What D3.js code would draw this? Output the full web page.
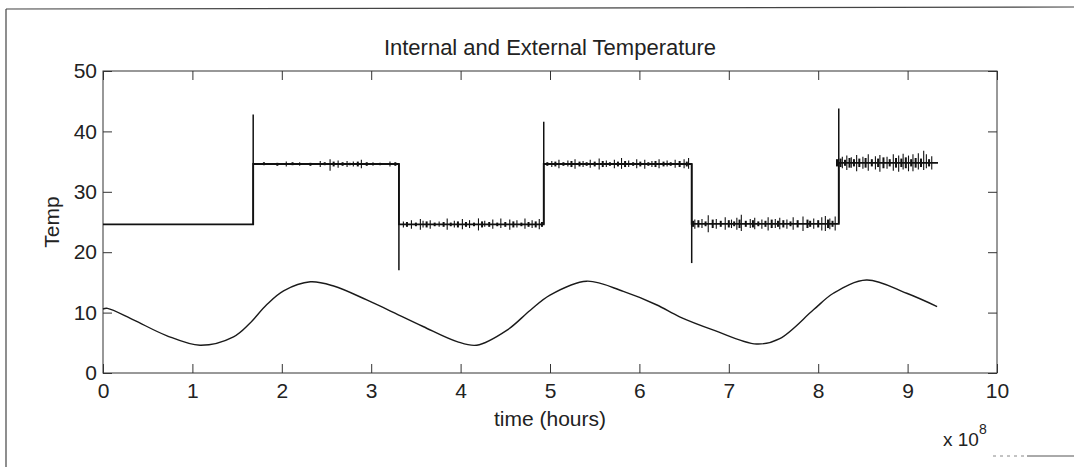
<!DOCTYPE html>
<html>
<head>
<meta charset="utf-8">
<script src="https://cdn.jsdelivr.net/npm/d3@7"></script>
<style>
  body { margin: 0; background: #fff; }
  svg { display: block; font-family: "Liberation Sans", Arial, sans-serif; }
</style>
</head>
<body>
<div id="chart"></div>
<script>
// external temperature (sine-like), x in units of 1e8
var extX = [0, 0.05, 0.34, 0.71, 1.085, 1.46, 1.64, 1.83, 2.02, 2.32, 2.58, 2.95, 3.21, 3.58, 3.96, 4.18, 4.52, 4.78, 5.0, 5.41, 5.82, 6.19, 6.45, 6.83, 7.31, 7.57, 7.95, 8.17, 8.54, 8.99, 9.33]
var extY = [10.6, 10.7, 8.8, 6.2, 4.6, 6.0, 8.2, 11.3, 13.6, 15.1, 14.4, 12.1, 10.3, 7.7, 5.2, 4.6, 7.1, 10.4, 12.9, 15.2, 13.5, 11.3, 9.3, 7.1, 4.8, 5.7, 10.5, 13.2, 15.4, 13.2, 11.0]

// internal temperature, step levels
var intX = [0, 1.68, 1.68, 3.31, 3.31, 4.93, 4.93, 6.585, 6.585, 8.23, 8.23, 9.34]
var intY = [24.6, 24.6, 34.6, 34.6, 24.6, 24.6, 34.6, 34.6, 24.7, 24.7, 34.8, 34.8]

// overshoot at each switch
var stepX  = [1.68, 3.31, 4.93, 6.585, 8.23]
var stepLo = [24.6, 17.0, 24.6, 18.2, 24.7]
var stepHi = [42.8, 34.6, 41.6, 34.6, 43.8]

// larger noise spikes on the internal signal
var spikeX  = [2.05, 2.20, 2.43, 2.54, 2.63, 2.73, 2.80, 2.89, 3.02, 3.21,
               3.36, 3.45, 3.55, 3.58, 3.66, 3.76, 3.85, 3.93, 4.02, 4.10, 4.20, 4.27, 4.36, 4.45, 4.55, 4.63, 4.72, 4.80, 4.88,
               5.02, 5.10, 5.20, 5.28, 5.37, 5.45, 5.55, 5.63, 5.72, 5.80, 5.88, 5.97, 6.06, 6.14, 6.22, 6.31, 6.40, 6.50, 6.55,
               6.62, 6.70, 6.77, 6.86, 6.96, 7.03, 7.09, 7.14, 7.24, 7.29, 7.37, 7.44, 7.52, 7.57, 7.65, 7.72, 7.83, 7.95, 8.04, 8.08, 8.13, 8.19,
               8.27, 8.32, 8.37, 8.43, 8.50, 8.56, 8.64, 8.69, 8.77, 8.84, 8.90, 8.95, 9.01, 9.06, 9.12, 9.18, 9.21, 9.27]
var spikeLo = [34.2, 34.3, 34.1, 33.5, 34.0, 34.1, 34.2, 33.9, 34.3, 34.2,
               24.1, 23.9, 23.7, 24.1, 23.9, 24.2, 23.7, 24.1, 23.8, 24.0, 23.6, 24.2, 23.9, 24.0, 23.7, 24.1, 23.9, 24.0, 23.8,
               34.1, 33.9, 34.2, 33.8, 34.1, 34.0, 33.7, 34.1, 33.9, 33.8, 34.1, 33.9, 33.8, 34.1, 33.9, 34.2, 34.0, 33.9, 33.8,
               23.9, 24.0, 23.3, 23.9, 23.7, 24.0, 23.7, 23.5, 24.0, 23.8, 23.9, 23.6, 24.0, 23.8, 23.9, 23.7, 23.5, 23.9, 23.6, 23.5, 23.8, 23.6,
               33.9, 33.6, 34.0, 33.4, 33.8, 33.5, 33.7, 33.3, 33.8, 33.5, 33.3, 33.7, 33.4, 33.4, 33.7, 33.6, 33.9, 33.7]
var spikeHi = [35.0, 34.9, 35.1, 35.4, 35.2, 35.1, 35.0, 35.3, 34.9, 35.0,
               25.1, 25.3, 25.5, 25.2, 25.3, 25.1, 25.6, 25.2, 25.5, 25.3, 25.6, 25.2, 25.4, 25.6, 25.4, 25.3, 25.6, 25.3, 25.5,
               35.1, 35.3, 35.2, 35.4, 35.1, 35.3, 35.5, 35.2, 35.3, 35.6, 35.2, 35.4, 35.3, 35.1, 35.4, 35.2, 35.3, 35.4, 35.6,
               25.4, 25.5, 26.1, 25.5, 25.8, 25.4, 25.7, 26.2, 25.5, 25.7, 25.4, 25.8, 25.5, 25.7, 25.4, 25.8, 25.9, 25.6, 25.8, 26.0, 25.6, 25.9,
               35.8, 36.0, 35.7, 36.1, 35.8, 36.2, 35.9, 36.1, 35.8, 36.2, 36.0, 36.3, 36.0, 36.2, 36.4, 36.8, 36.2, 35.9]

// small noise blips between the larger spikes
var blipX  = [1.80, 1.95, 2.12, 2.32, 2.48, 2.58, 2.68, 2.76, 2.85, 2.95, 3.10, 3.27,
              3.40, 3.50, 3.62, 3.71, 3.81, 3.89, 3.97, 4.06, 4.15, 4.24, 4.32, 4.41, 4.50, 4.59, 4.68, 4.76, 4.84, 4.91,
              4.97, 5.06, 5.15, 5.24, 5.33, 5.41, 5.50, 5.59, 5.67, 5.76, 5.84, 5.93, 6.01, 6.10, 6.18, 6.27, 6.35, 6.45, 6.53,
              6.60, 6.66, 6.74, 6.82, 6.91, 7.00, 7.06, 7.12, 7.19, 7.27, 7.33, 7.41, 7.48, 7.55, 7.61, 7.69, 7.77, 7.88, 7.91, 8.00, 8.11, 8.16, 8.21,
              8.25, 8.30, 8.35, 8.40, 8.46, 8.53, 8.60, 8.67, 8.73, 8.80, 8.87, 8.93, 8.98, 9.04, 9.09, 9.15, 9.24, 9.30]
var blipLo = [34.4, 34.3, 34.4, 34.3, 34.4, 34.2, 34.3, 34.4, 34.2, 34.3, 34.4, 34.3,
              24.2, 24.3, 24.1, 24.3, 24.2, 24.3, 24.1, 24.2, 24.3, 24.1, 24.2, 24.3, 24.2, 24.1, 24.3, 24.2, 24.1, 24.2,
              34.3, 34.2, 34.3, 34.1, 34.2, 34.3, 34.2, 34.1, 34.3, 34.2, 34.1, 34.3, 34.2, 34.3, 34.1, 34.2, 34.3, 34.1, 34.2,
              24.2, 24.1, 24.3, 24.0, 24.2, 24.1, 24.3, 24.0, 24.2, 24.1, 24.3, 24.2, 24.0, 24.2, 24.1, 24.3, 24.1, 24.0, 24.2, 24.1, 24.0, 24.2,
              34.2, 34.1, 34.3, 34.0, 34.2, 34.1, 34.0, 34.2, 34.1, 33.9, 34.2, 34.0, 34.1, 33.9, 34.2, 34.0, 34.1, 34.2]
var blipHi = [34.9, 34.8, 34.9, 34.8, 34.9, 35.0, 34.9, 34.8, 35.0, 34.9, 34.8, 34.9,
              25.0, 24.9, 25.1, 24.9, 25.0, 24.9, 25.1, 25.0, 24.9, 25.1, 25.0, 24.9, 25.0, 25.1, 24.9, 25.0, 25.1, 25.0,
              34.9, 35.0, 34.9, 35.1, 35.0, 34.9, 35.0, 35.1, 34.9, 35.0, 35.1, 34.9, 35.0, 34.9, 35.1, 35.0, 34.9, 35.1, 35.0,
              25.2, 25.3, 25.1, 25.4, 25.2, 25.3, 25.1, 25.4, 25.2, 25.3, 25.1, 25.2, 25.4, 25.2, 25.3, 25.1, 25.3, 25.4, 25.2, 25.3, 25.4, 25.2,
              35.4, 35.5, 35.3, 35.6, 35.4, 35.5, 35.6, 35.4, 35.5, 35.7, 35.4, 35.6, 35.5, 35.7, 35.4, 35.6, 35.5, 35.4]

var xTicks = [0, 1, 2, 3, 4, 5, 6, 7, 8, 9, 10]
var yTicks = [0, 10, 20, 30, 40, 50]

var width = 1074, height = 467
var plotL = 103, plotR = 997, plotT = 71, plotB = 373

var svg = d3.select("#chart").append("svg")
    .attr("width", width)
    .attr("height", height)

svg.append("rect").attr("width", width).attr("height", height).attr("fill", "#fff")

// scanned page frame
svg.append("line").attr("x1", 6).attr("y1", 9).attr("x2", 6).attr("y2", height)
    .attr("stroke", "#444").attr("stroke-width", 1.2)
svg.append("line").attr("x1", 6).attr("y1", 9).attr("x2", width).attr("y2", 7)
    .attr("stroke", "#444").attr("stroke-width", 1.2)
svg.append("line").attr("x1", 993).attr("y1", 456).attr("x2", 1025).attr("y2", 456)
    .attr("stroke", "#888").attr("stroke-width", 1).attr("stroke-dasharray", "3,4")
svg.append("line").attr("x1", 1027).attr("y1", 456).attr("x2", width).attr("y2", 456)
    .attr("stroke", "#555").attr("stroke-width", 1)

var x = d3.scaleLinear().domain([0, 10]).range([plotL, plotR])
var y = d3.scaleLinear().domain([0, 50]).range([plotB, plotT])

// box
svg.append("rect")
    .attr("x", plotL).attr("y", plotT)
    .attr("width", plotR - plotL).attr("height", plotB - plotT)
    .attr("fill", "none").attr("stroke", "#333").attr("stroke-width", 1)

var tickFont = 21

svg.append("g")
    .attr("transform", "translate(0," + plotB + ")")
    .call(d3.axisBottom(x).tickValues(xTicks).tickFormat(d3.format("d")).tickSize(-9).tickPadding(10))
svg.append("g")
    .attr("transform", "translate(0," + plotT + ")")
    .call(d3.axisTop(x).tickValues(xTicks).tickFormat("").tickSize(-9))
svg.append("g")
    .attr("transform", "translate(" + plotL + ",0)")
    .call(d3.axisLeft(y).tickValues(yTicks).tickSize(-9).tickPadding(6))
svg.append("g")
    .attr("transform", "translate(" + plotR + ",0)")
    .call(d3.axisRight(y).tickValues(yTicks).tickFormat("").tickSize(-9))

svg.selectAll(".domain").remove()
svg.selectAll(".tick line").attr("stroke", "#333").attr("stroke-width", 1)
svg.selectAll(".tick text")
    .attr("fill", "#222")
    .style("font-size", tickFont + "px")
    .style("font-family", '"Liberation Sans", Arial, sans-serif')

// external temperature
var extData = extX.map(function(d, i) { return [d, extY[i]] })
svg.append("path")
    .datum(extData)
    .attr("fill", "none")
    .attr("stroke", "#1a1a1a")
    .attr("stroke-width", 1.4)
    .attr("d", d3.line().x(d => x(d[0])).y(d => y(d[1])).curve(d3.curveCatmullRom))

// internal temperature
var intData = intX.map(function(d, i) { return [d, intY[i]] })
svg.append("path")
    .datum(intData)
    .attr("fill", "none")
    .attr("stroke", "#111")
    .attr("stroke-width", 1.8)
    .attr("d", d3.line().x(d => x(d[0])).y(d => y(d[1])))

svg.append("g").selectAll("line")
    .data(stepX)
    .enter().append("line")
    .attr("x1", d => x(d)).attr("x2", d => x(d))
    .attr("y1", (d, i) => y(stepLo[i]))
    .attr("y2", (d, i) => y(stepHi[i]))
    .attr("stroke", "#111")
    .attr("stroke-width", 1.5)

svg.append("g").selectAll("line")
    .data(blipX)
    .enter().append("line")
    .attr("x1", d => x(d)).attr("x2", d => x(d))
    .attr("y1", (d, i) => y(blipLo[i]))
    .attr("y2", (d, i) => y(blipHi[i]))
    .attr("stroke", "#111")
    .attr("stroke-width", 2)

svg.append("g").selectAll("line")
    .data(spikeX)
    .enter().append("line")
    .attr("x1", d => x(d)).attr("x2", d => x(d))
    .attr("y1", (d, i) => y(spikeLo[i]))
    .attr("y2", (d, i) => y(spikeHi[i]))
    .attr("stroke", "#111")
    .attr("stroke-width", 1.1)

// labels
svg.append("text")
    .attr("x", (plotL + plotR) / 2).attr("y", 55)
    .attr("text-anchor", "middle")
    .attr("fill", "#222")
    .style("font-size", "22px")
    .text("Internal and External Temperature")

svg.append("text")
    .attr("x", (plotL + plotR) / 2).attr("y", 426)
    .attr("text-anchor", "middle")
    .attr("fill", "#222")
    .style("font-size", "21px")
    .text("time (hours)")

svg.append("text")
    .attr("transform", "translate(59," + ((plotT + plotB) / 2) + ") rotate(-90)")
    .attr("text-anchor", "middle")
    .attr("fill", "#222")
    .style("font-size", "21px")
    .text("Temp")

var expo = svg.append("text")
    .attr("x", 943).attr("y", 446)
    .attr("fill", "#222")
    .style("font-size", "19px")
expo.append("tspan").text("x 10")
expo.append("tspan").attr("dy", -12).style("font-size", "14px").text("8")
</script>
</body>
</html>
